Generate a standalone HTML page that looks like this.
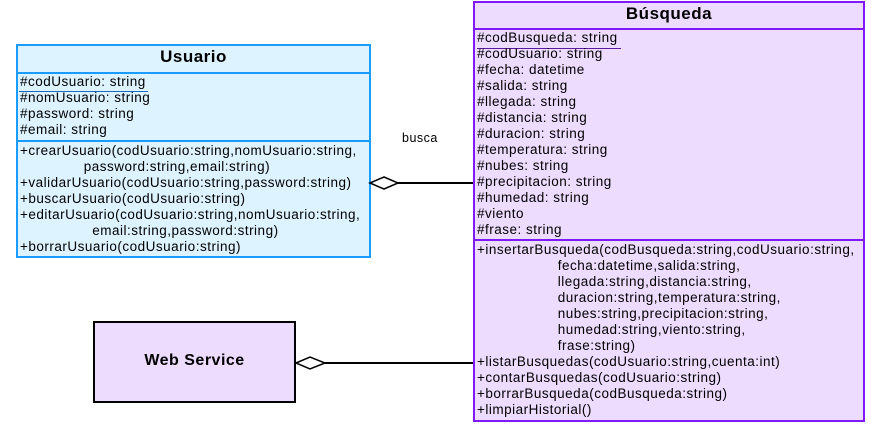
<!DOCTYPE html>
<html><head><meta charset="utf-8"><style>
body{margin:0;width:883px;height:435px;background:#fff;position:relative;font-family:"Liberation Sans",sans-serif;overflow:hidden}
.b{position:absolute;box-sizing:border-box}
.t{position:absolute;font-size:13.5px;letter-spacing:0.5px;line-height:16px;white-space:pre;color:#000}
.h{position:absolute;font-weight:bold;font-size:17px;text-align:center;letter-spacing:0.5px}
</style></head><body>
<!-- Usuario -->
<div class="b" style="left:16px;top:44px;width:355px;height:214px;background:#ddf3ff;border:2px solid #1a9bff"></div>
<div class="b" style="left:16px;top:72px;width:355px;height:2px;background:#1a9bff"></div>
<div class="b" style="left:16px;top:140px;width:355px;height:2px;background:#1a9bff"></div>
<div class="h" style="left:16px;top:47px;width:355px">Usuario</div>
<div class="b" style="left:19px;top:91px;width:129px;height:1px;background:#1a6bc0"></div>
<div class="t" style="left:20px;top:74px">#codUsuario: string
#nomUsuario: string
#password: string
#email: string</div>
<div class="t" style="left:20px;top:143px">+crearUsuario(codUsuario:string,nomUsuario:string,
               password:string,email:string)
+validarUsuario(codUsuario:string,password:string)
+buscarUsuario(codUsuario:string)
+editarUsuario(codUsuario:string,nomUsuario:string,
                 email:string,password:string)
+borrarUsuario(codUsuario:string)</div>
<!-- Busqueda -->
<div class="b" style="left:473px;top:1px;width:392px;height:421px;background:#eedcff;border:2px solid #7f1aff"></div>
<div class="b" style="left:473px;top:28px;width:392px;height:2px;background:#7f1aff"></div>
<div class="b" style="left:473px;top:239px;width:392px;height:2px;background:#7f1aff"></div>
<div class="h" style="left:473px;top:4px;width:392px">Búsqueda</div>
<div class="b" style="left:477px;top:48px;width:144px;height:1px;background:#5a1aa0"></div>
<div class="t" style="left:477px;top:30px">#codBusqueda: string
#codUsuario: string
#fecha: datetime
#salida: string
#llegada: string
#distancia: string
#duracion: string
#temperatura: string
#nubes: string
#precipitacion: string
#humedad: string
#viento
#frase: string</div>
<div class="t" style="left:477px;top:242px">+insertarBusqueda(codBusqueda:string,codUsuario:string,
                   fecha:datetime,salida:string,
                   llegada:string,distancia:string,
                   duracion:string,temperatura:string,
                   nubes:string,precipitacion:string,
                   humedad:string,viento:string,
                   frase:string)
+listarBusquedas(codUsuario:string,cuenta:int)
+contarBusquedas(codUsuario:string)
+borrarBusqueda(codBusqueda:string)
+limpiarHistorial()</div>
<!-- Web Service -->
<div class="b" style="left:93px;top:321px;width:203px;height:82px;background:#eedcff;border:2px solid #000"></div>
<div class="h" style="left:93px;top:352px;width:203px;font-size:16px">Web Service</div>
<div class="t" style="left:402px;top:130px;font-size:12.5px">busca</div>
<svg class="b" style="left:0;top:0" width="883" height="435">
<line x1="398" y1="183" x2="473" y2="183" stroke="#000" stroke-width="2"/>
<polygon points="370,183 384,177 398,183 384,189" fill="#fff" stroke="#000" stroke-width="1.5"/>
<line x1="325" y1="363" x2="473" y2="363" stroke="#000" stroke-width="2"/>
<polygon points="296,363 310,357 325,363 310,369" fill="#fff" stroke="#000" stroke-width="1.5"/>
</svg>
</body></html>
